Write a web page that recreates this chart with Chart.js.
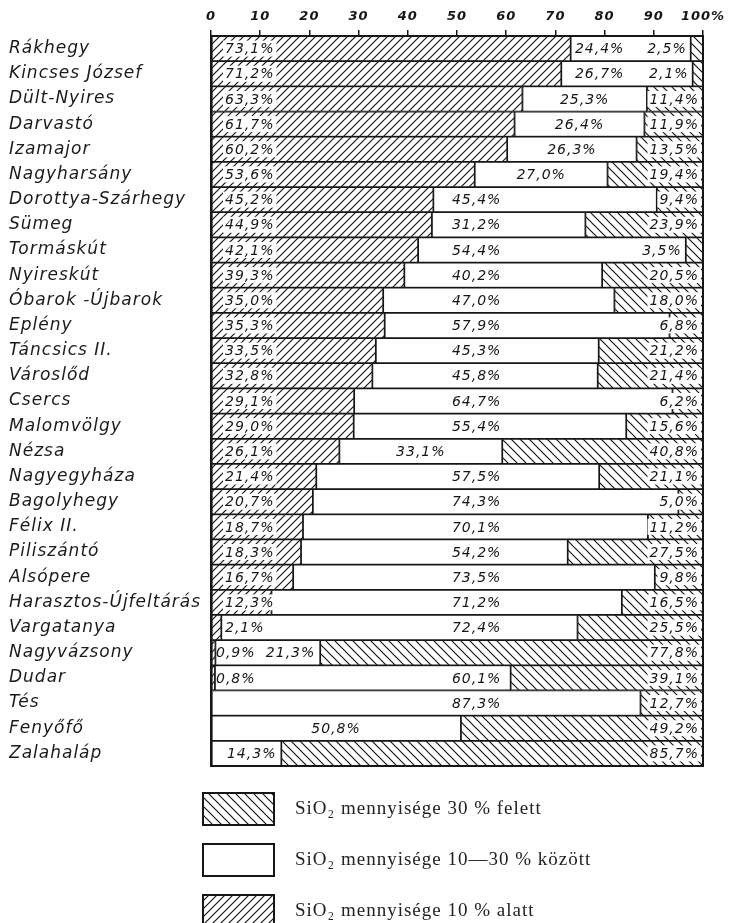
<!DOCTYPE html>
<html lang="hu">
<head>
<meta charset="utf-8">
<title>SiO2 mennyisége</title>
<script src="https://cdn.jsdelivr.net/npm/chart.js@4"></script>
<style>
  html, body { margin: 0; padding: 0; background: #fff; }
  #wrap { width: 740px; height: 923px; position: relative; }
</style>
</head>
<body>
<div id="wrap"><canvas id="chart"></canvas></div>
<script>
// ── Data ──────────────────────────────────────────────────
const sites = [
  'Rákhegy', 'Kincses József', 'Dült-Nyires', 'Darvastó', 'Izamajor',
  'Nagyharsány', 'Dorottya-Szárhegy', 'Sümeg', 'Tormáskút', 'Nyireskút',
  'Óbarok -Újbarok', 'Eplény', 'Táncsics II.', 'Városlőd', 'Csercs',
  'Malomvölgy', 'Nézsa', 'Nagyegyháza', 'Bagolyhegy', 'Félix II.',
  'Piliszántó', 'Alsópere', 'Harasztos-Újfeltárás', 'Vargatanya', 'Nagyvázsony',
  'Dudar', 'Tés', 'Fenyőfő', 'Zalahaláp'
];
const below10 = [
  73.1, 71.2, 63.3, 61.7, 60.2, 53.6, 45.2, 44.9, 42.1, 39.3,
  35.0, 35.3, 33.5, 32.8, 29.1, 29.0, 26.1, 21.4, 20.7, 18.7,
  18.3, 16.7, 12.3, 2.1, 0.9, 0.8, 0, 0, 0
];
const between10and30 = [
  24.4, 26.7, 25.3, 26.4, 26.3, 27.0, 45.4, 31.2, 54.4, 40.2,
  47.0, 57.9, 45.3, 45.8, 64.7, 55.4, 33.1, 57.5, 74.3, 70.1,
  54.2, 73.5, 71.2, 72.4, 21.3, 60.1, 87.3, 50.8, 14.3
];
const above30 = [
  2.5, 2.1, 11.4, 11.9, 13.5, 19.4, 9.4, 23.9, 3.5, 20.5,
  18.0, 6.8, 21.2, 21.4, 6.2, 15.6, 40.8, 21.1, 5.0, 11.2,
  27.5, 9.8, 16.5, 25.5, 77.8, 39.1, 12.7, 49.2, 85.7
];
const xTicks = [0, 10, 20, 30, 40, 50, 60, 70, 80, 90, 100];
const legendTexts = [
  'SiO₂ mennyisége 10 % alatt',
  'SiO₂ mennyisége 10—30 % között',
  'SiO₂ mennyisége 30 % felett'
];

// ── Helpers ───────────────────────────────────────────────
const pct = v => v.toFixed(1).replace('.', ',') + '%';
const INK = '#161616';

function hatch(step, forward) {
  const c = document.createElement('canvas');
  c.width = step; c.height = step;
  const g = c.getContext('2d');
  g.fillStyle = '#fff';
  g.fillRect(0, 0, step, step);
  g.strokeStyle = INK;
  g.lineWidth = 1.2;
  g.beginPath();
  if (forward) {            // "/"
    g.moveTo(0, step); g.lineTo(step, 0);
    g.moveTo(-1, 1); g.lineTo(1, -1);
    g.moveTo(step - 1, step + 1); g.lineTo(step + 1, step - 1);
  } else {                  // "\"
    g.moveTo(0, 0); g.lineTo(step, step);
    g.moveTo(step - 1, -1); g.lineTo(step + 1, 1);
    g.moveTo(-1, step - 1); g.lineTo(1, step + 1);
  }
  g.stroke();
  return g.createPattern(c, 'repeat');
}

// ── Plugins ───────────────────────────────────────────────
// the lettering in the original is widely spaced
const spacing = {
  id: 'spacing',
  beforeDraw(chart) { chart.ctx.letterSpacing = '1px'; }
};

const barLabels = {
  id: 'barLabels',
  afterDatasetsDraw(chart) {
    const { ctx, chartArea, scales: { x } } = chart;
    ctx.save();
    ctx.font = 'italic 14px "DejaVu Sans"';
    ctx.textBaseline = 'middle';
    ctx.fillStyle = INK;
    chart.data.datasets.forEach((ds, di) => {
      chart.getDatasetMeta(di).data.forEach((bar, i) => {
        const v = ds.data[i];
        if (!v) return;
        const { y } = bar.getProps(['y'], true);
        const text = pct(v);
        const w = ctx.measureText(text).width;
        let tx, align = 'center';
        if (di === 0) {
          tx = chartArea.left + (v < 1 ? 5 : 14); align = 'left';
        } else if (di === 2) {
          align = 'right';
          tx = v < 4 ? x.getPixelForValue(100 - v) - 4 : chartArea.right - 4;
        } else {
          const s = below10[i], e = below10[i] + v;
          if (s <= 48 && e >= 60) tx = x.getPixelForValue(54);
          else if (v < 23) { tx = x.getPixelForValue(e - 1); align = 'right'; }
          else tx = x.getPixelForValue(Math.min((s + e) / 2, 79));
        }
        const left = align === 'left' ? tx : align === 'right' ? tx - w : tx - w / 2;
        // clear the hatching behind labels, but keep thin slivers visible
        if (di !== 1 && v >= 4) {
          ctx.fillStyle = '#fff';
          ctx.fillRect(left - 2, y - 8, w + 4, 16);
          ctx.fillStyle = INK;
        }
        ctx.textAlign = align;
        ctx.fillText(text, tx, y + 1);
      });
    });
    ctx.restore();
  }
};

const frame = {
  id: 'frame',
  afterDraw(chart) {
    const { ctx, chartArea: a } = chart;
    ctx.save();
    ctx.strokeStyle = INK;
    ctx.lineWidth = 2;
    ctx.strokeRect(a.left, a.top, a.right - a.left, a.bottom - a.top);
    ctx.restore();
  }
};

// legend drawn by hand: three stacked boxes below the plot
const legendBoxes = {
  id: 'legendBoxes',
  afterDraw(chart) {
    const { ctx, chartArea: a } = chart;
    const order = [2, 1, 0];
    ctx.save();
    ctx.font = '19px "Liberation Serif"';
    ctx.textBaseline = 'middle';
    order.forEach((di, k) => {
      const bx = a.left - 8, by = a.bottom + 27 + k * 51, bw = 71, bh = 32;
      ctx.fillStyle = chart.data.datasets[di].backgroundColor;
      ctx.fillRect(bx, by, bw, bh);
      ctx.strokeStyle = INK;
      ctx.lineWidth = 2;
      ctx.strokeRect(bx, by, bw, bh);
      ctx.fillStyle = '#222';
      ctx.fillText(legendTexts[di], bx + 92, by + bh / 2);
    });
    ctx.restore();
  }
};

// ── Chart ─────────────────────────────────────────────────
const common = { borderColor: INK, borderWidth: 1.2, borderSkipped: false, barPercentage: 1, categoryPercentage: 1 };

new Chart(document.getElementById('chart'), {
  type: 'bar',
  data: {
    labels: sites,
    datasets: [
      { label: legendTexts[0], data: below10, backgroundColor: hatch(8, true), ...common },
      { label: legendTexts[1], data: between10and30, backgroundColor: '#fff', ...common },
      { label: legendTexts[2], data: above30, backgroundColor: hatch(9, false), ...common },
    ]
  },
  options: {
    indexAxis: 'y',
    responsive: true,
    maintainAspectRatio: false,
    animation: false,
    layout: { padding: { left: 9, top: 0, right: 37, bottom: 157 } },
    plugins: { legend: { display: false }, tooltip: { enabled: false } },
    scales: {
      x: {
        position: 'top',
        stacked: true,
        min: 0, max: 100,
        afterBuildTicks: s => { s.ticks = xTicks.map(v => ({ value: v })); },
        afterFit: s => { s.height = 36; },
        grid: { drawOnChartArea: false, color: INK, lineWidth: 1.5, tickLength: 6 },
        border: { display: true, color: INK, width: 2 },
        ticks: {
          color: INK,
          padding: 6,
          maxRotation: 0,
          font: { family: 'DejaVu Sans', size: 13, style: 'italic', weight: 'bold' },
          callback: v => v === 100 ? '100%' : v
        }
      },
      y: {
        stacked: true,
        afterFit: s => { s.width = 202; },
        grid: { display: false },
        border: { display: true, color: INK, width: 2 },
        ticks: {
          color: '#1a1a1a',
          crossAlign: 'far',
          autoSkip: false,
          font: { family: 'DejaVu Sans', size: 17, style: 'italic' }
        }
      }
    }
  },
  plugins: [spacing, barLabels, frame, legendBoxes]
});
</script>
</body>
</html>
